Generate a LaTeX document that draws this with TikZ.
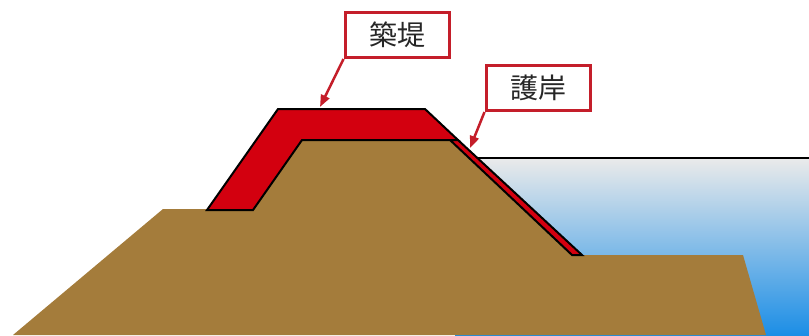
\documentclass[tikz,border=0pt]{standalone}
\usepackage{fontspec}
\usepackage{tikz}
\usepackage{xcolor}
\usetikzlibrary{arrows.meta}
\newfontfamily\jpfont{Noto Sans CJK JP}
\definecolor{soil}{HTML}{A47C3B}
\definecolor{bank-red}{HTML}{D3000F}
\definecolor{frame-red}{HTML}{C41E2A}
\tikzset{
    label-box/.style = {draw=frame-red, fill=white, line width=3pt, rectangle, minimum width=104pt, minimum height=45pt, font=\jpfont\fontsize{28}{30}\selectfont, text=black!85},
    pointer-arrow/.style = {draw=frame-red, line width=2.5pt, -{Triangle[length=12pt,width=9pt]}},
    red-part/.style = {fill=bank-red, draw=black, line width=2pt, line join=miter},
}

\begin{document}
\begin{tikzpicture}[x=1pt, y=-1pt]
\useasboundingbox (0,0) rectangle (809,335);
\fill[top color=black!8, middle color=blue!30!cyan!25, bottom color={rgb,255:red,28;green,142;blue,230}] (455,158) rectangle (809,335);
\draw[line width=2pt] (470,158) -- (809,158);
\fill[soil] (13,335) -- (163,209) -- (253,209) -- (302,140) -- (452,140) -- (574,255) -- (743,255) -- (766,335) -- cycle;
\draw[red-part] (207,210) -- (278,109) -- (425,109) -- (458,140) -- (302,140) -- (253,210) -- cycle;
\draw[red-part] (450,140) -- (458,140) -- (582,255) -- (572,255) -- cycle;
\node[label-box] (levee) at (397,35) {築堤};
\node[label-box] (revetment) at (538,88) {護岸};
\coordinate (levee-tip) at (320,107);
\coordinate (revetment-tip) at (470,148);
\draw[pointer-arrow] (levee.south west) -- (levee-tip);
\draw[pointer-arrow] (revetment.south west) -- (revetment-tip);
\end{tikzpicture}
\end{document}
